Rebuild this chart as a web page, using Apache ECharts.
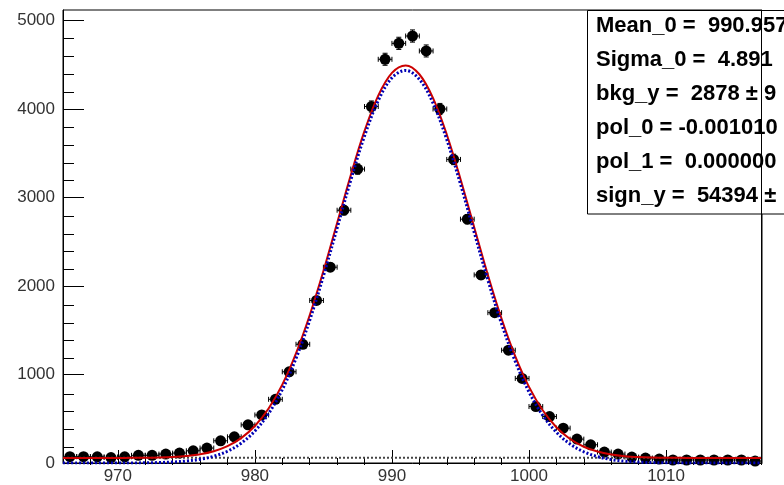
<!DOCTYPE html>
<html><head><meta charset="utf-8">
<script src="https://cdn.jsdelivr.net/npm/echarts@6/dist/echarts.min.js"></script>
<style>html,body{margin:0;padding:0;background:#fff}#c{width:784px;height:485px}</style>
</head><body><div id="c"></div>
<script>
// ---- data ----
const binCenters = [966.5,967.5,968.5,969.5,970.5,971.5,972.5,973.5,974.5,975.5,976.5,977.5,978.5,979.5,980.5,981.5,982.5,983.5,984.5,985.5,986.5,987.5,988.5,989.5,990.5,991.5,992.5,993.5,994.5,995.5,996.5,997.5,998.5,999.5,1000.5,1001.5,1002.5,1003.5,1004.5,1005.5,1006.5,1007.5,1008.5,1009.5,1010.5,1011.5,1012.5,1013.5,1014.5,1015.5,1016.5];
const counts = [72,72,70,62,70,87,87,101,112,138,169,251,296,431,543,720,1031,1342,1837,2213,2857,3322,4029,4563,4743,4826,4657,4001,3431,2756,2126,1699,1275,956,638,525,394,270,206,124,101,67,56,45,34,34,34,34,34,34,22];
const countErrors = [8,8,8,8,8,9,9,10,11,12,13,16,17,21,23,27,32,37,43,47,53,58,63,68,69,69,68,63,59,52,46,41,36,31,25,23,20,16,14,11,10,8,7,7,6,6,6,6,6,6,5];
const binHalfWidth = 0.5;
const curveX = [966,967,968,969,970,971,972,973,974,975,976,977,978,979,980,981,982,983,984,985,986,987,988,989,990,991,992,993,994,995,996,997,998,999,1000,1001,1002,1003,1004,1005,1006,1007,1008,1009,1010,1011,1012,1013,1014,1015,1016,1017];
const signalCurve = [0,0,0,0,0,1,2,5,11,22,41,76,133,224,361,559,829,1182,1613,2113,2655,3199,3696,4096,4353,4437,4337,4067,3656,3153,2608,2068,1573,1148,803,539,347,214,127,72,39,20,10,5,2,1,0,0,0,0,0,0];
const totalCurve = [57,57,57,57,57,58,59,62,68,79,98,133,190,281,418,616,886,1239,1670,2170,2712,3256,3753,4153,4410,4494,4394,4124,3713,3210,2665,2125,1630,1205,860,596,404,271,184,129,96,77,67,62,59,58,57,57,57,57,57,57];
const bkgX = [966,1017];
const bkgCurve = [60,58];
const xMajorTicks = [970,980,990,1000,1010];
const xMinorTicks = [968,972,974,976,978,982,984,986,988,992,994,996,998,1002,1004,1006,1008,1012,1014,1016];
const yMajorTicks = [0,1000,2000,3000,4000,5000];
const yMinorTicks = [200,400,600,800,1200,1400,1600,1800,2200,2400,2600,2800,3200,3400,3600,3800,4200,4400,4600,4800];
const statLines = ["Mean_0 =  990.957","Sigma_0 =  4.891","bkg_y =  2878 \u00b1 9","pol_0 = -0.001010","pol_1 =  0.000000","sign_y =  54394 \u00b1"];

const X_MIN = 966, X_MAX = 1017, Y_MIN = 0, Y_MAX = 5120;
const G = {left: 63, right: 22, top: 10, bottom: 20};
const FONT = '"Liberation Sans", Arial, Helvetica, sans-serif';

const chart = echarts.init(document.getElementById('c'), null, {renderer: 'canvas'});

const points = binCenters.map((x, i) => [x, counts[i], countErrors[i]]);

const statGraphics = [{
  type: 'rect', z: 100,
  shape: {x: 587.5, y: 10.5, width: 260, height: 203.5},
  style: {fill: '#fff', stroke: '#000', lineWidth: 1}
}];
statLines.forEach((t, i) => {
  statGraphics.push({
    type: 'text', z: 101, x: 596, y: 26 + i * 33.9,
    style: {text: t, fill: '#000', font: 'bold 22px ' + FONT, verticalAlign: 'middle', align: 'left'}
  });
});
statGraphics.push({
  type: 'line', z: 102,
  shape: {x1: 761.5, y1: 10, x2: 761.5, y2: 465},
  style: {stroke: '#000', lineWidth: 1}
});

const plain = v => String(v);

const option = {
  animation: false,
  backgroundColor: '#fff',
  grid: [
    Object.assign({show: true, borderColor: '#000', borderWidth: 1, backgroundColor: 'transparent'}, G),
    Object.assign({show: false}, G)
  ],
  xAxis: [
    {gridIndex: 0, type: 'value', min: X_MIN, max: X_MAX, position: 'bottom',
     axisLine: {show: true, onZero: false, lineStyle: {color: '#000', width: 1}},
     axisTick: {show: true, inside: true, length: 13, customValues: xMajorTicks, lineStyle: {color: '#000'}},
     axisLabel: {show: true, customValues: xMajorTicks, formatter: plain, margin: 5, color: '#333', fontSize: 17, fontFamily: FONT},
     splitLine: {show: false}},
    {gridIndex: 1, type: 'value', min: X_MIN, max: X_MAX, position: 'bottom',
     axisLine: {show: false},
     axisTick: {show: true, inside: true, length: 7, customValues: xMinorTicks, lineStyle: {color: '#000'}},
     axisLabel: {show: false}, splitLine: {show: false}}
  ],
  yAxis: [
    {gridIndex: 0, type: 'value', min: Y_MIN, max: Y_MAX, position: 'left',
     axisLine: {show: true, onZero: false, lineStyle: {color: '#000', width: 1}},
     axisTick: {show: true, inside: true, length: 21, customValues: yMajorTicks, lineStyle: {color: '#000'}},
     axisLabel: {show: true, customValues: yMajorTicks, formatter: plain, margin: 8, color: '#333', fontSize: 17, fontFamily: FONT},
     splitLine: {show: false}},
    {gridIndex: 1, type: 'value', min: Y_MIN, max: Y_MAX, position: 'left',
     axisLine: {show: false},
     axisTick: {show: true, inside: true, length: 11, customValues: yMinorTicks, lineStyle: {color: '#000'}},
     axisLabel: {show: false}, splitLine: {show: false}}
  ],
  graphic: statGraphics,
  series: [
    {
      type: 'custom', xAxisIndex: 0, yAxisIndex: 0, z: 3, clip: true,
      data: points,
      renderItem: function (params, api) {
        const x = api.value(0), y = api.value(1), e = api.value(2);
        const pL = api.coord([x - binHalfWidth, y]), pR = api.coord([x + binHalfWidth, y]);
        const pT = api.coord([x, y + e]), pB = api.coord([x, y - e]);
        const cap = 2.5;
        const st = {stroke: '#000', lineWidth: 1};
        return {type: 'group', children: [
          {type: 'line', shape: {x1: pL[0], y1: pL[1], x2: pR[0], y2: pR[1]}, style: st},
          {type: 'line', shape: {x1: pL[0], y1: pL[1] - cap, x2: pL[0], y2: pL[1] + cap}, style: st},
          {type: 'line', shape: {x1: pR[0], y1: pR[1] - cap, x2: pR[0], y2: pR[1] + cap}, style: st},
          {type: 'line', shape: {x1: pT[0], y1: pT[1], x2: pB[0], y2: pB[1]}, style: st},
          {type: 'line', shape: {x1: pT[0] - cap, y1: pT[1], x2: pT[0] + cap, y2: pT[1]}, style: st},
          {type: 'line', shape: {x1: pB[0] - cap, y1: pB[1], x2: pB[0] + cap, y2: pB[1]}, style: st}
        ]};
      }
    },
    {
      type: 'scatter', xAxisIndex: 0, yAxisIndex: 0, z: 4,
      symbol: 'circle', symbolSize: 11,
      itemStyle: {color: '#000', opacity: 1},
      data: points.map(p => [p[0], p[1]])
    },
    {
      type: 'line', xAxisIndex: 0, yAxisIndex: 0, z: 5,
      data: bkgX.map((x, i) => [x, bkgCurve[i]]),
      showSymbol: false, symbol: 'none',
      lineStyle: {color: '#444', width: 2, type: [2, 2]}
    },
    {
      type: 'line', xAxisIndex: 0, yAxisIndex: 0, z: 6,
      data: curveX.map((x, i) => [x, totalCurve[i]]),
      smooth: 0.35, showSymbol: false, symbol: 'none',
      lineStyle: {color: '#cc0000', width: 2}
    },
    {
      type: 'line', xAxisIndex: 0, yAxisIndex: 0, z: 7,
      data: curveX.map((x, i) => [x, signalCurve[i]]),
      smooth: 0.35, showSymbol: false, symbol: 'none',
      lineStyle: {color: '#0000b4', width: 3, type: [2, 2]}
    }
  ]
};
chart.setOption(option);
</script>
</body></html>
